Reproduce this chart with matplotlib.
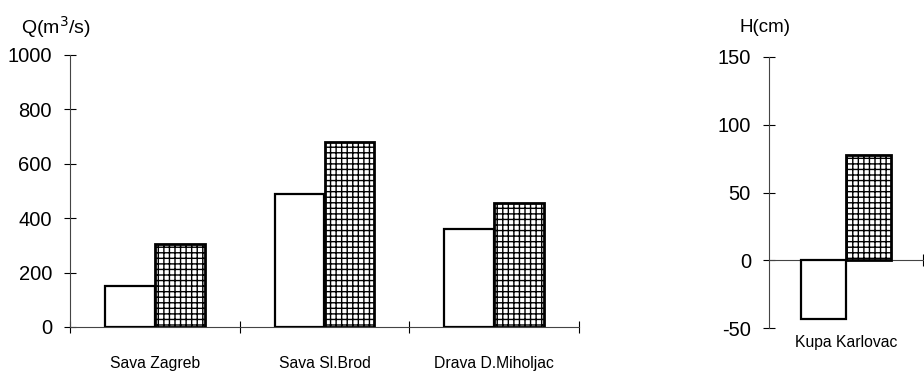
import matplotlib
matplotlib.use("Agg")
import matplotlib.pyplot as plt
import numpy as np

plt.rcParams['font.family'] = ['Liberation Sans', 'DejaVu Sans']
plt.rcParams['hatch.linewidth'] = 1.0

# Data
q_stations = ["Sava Zagreb", "Sava Sl.Brod", "Drava D.Miholjac"]
q_series_a = [150, 490, 360]   # white bars
q_series_b = [305, 680, 455]   # hatched bars
h_stations = ["Kupa Karlovac"]
h_series_a = [-43]
h_series_b = [78]
q_ticks = [0, 200, 400, 600, 800, 1000]
h_ticks = [-50, 0, 50, 100, 150]

W, H = 924, 372
fig = plt.figure(figsize=(W / 100, H / 100), dpi=100)

def fx(px):
    return px / W

def fy(py):
    return 1 - py / H

bw = 0.294

# Left axes
axl = fig.add_axes([fx(70), fy(327), fx(579) - fx(70), fy(55) - fy(327)])
x = np.arange(len(q_stations))
axl.bar(x - bw / 2, q_series_a, width=bw, facecolor='white', edgecolor='black', linewidth=1.6, zorder=3)
axl.bar(x + bw / 2, q_series_b, width=bw, facecolor='white', edgecolor='black', linewidth=2.0, hatch='+++', zorder=3)
axl.set_xlim(-0.5, len(q_stations) - 0.5)
axl.set_ylim(0, 1000)
axl.set_yticks(q_ticks)
axl.set_yticklabels([str(t) for t in q_ticks], fontsize=14.5)
axl.set_xticks(np.arange(len(q_stations) + 1) - 0.5)
axl.set_xticklabels([])
axl.set_xticks(x, minor=True)
axl.set_xticklabels(q_stations, minor=True, fontsize=11.3)
axl.tick_params(axis='x', which='minor', length=0, pad=21)
axl.tick_params(axis='both', which='major', direction='inout', length=8, width=0.8)
axl.tick_params(axis='y', pad=9)
for s in ['top', 'right']:
    axl.spines[s].set_visible(False)
axl.spines['left'].set_linewidth(0.8)
axl.spines['left'].set_color('#444444')
axl.spines['bottom'].set_linewidth(0.8)
axl.spines['bottom'].set_color('#444444')
axl.set_facecolor('none')

# Right axes
axr = fig.add_axes([fx(769), fy(328), fx(923) - fx(769), fy(57) - fy(328)])
xr = np.arange(len(h_stations))
axr.bar(xr - bw / 2, h_series_a, width=bw, facecolor='white', edgecolor='black', linewidth=1.6, zorder=3)
axr.bar(xr + bw / 2, h_series_b, width=bw, facecolor='white', edgecolor='black', linewidth=2.0, hatch='+++', zorder=3)
axr.set_xlim(-0.5, len(h_stations) - 0.5)
axr.set_ylim(-50, 150)
axr.set_yticks(h_ticks)
axr.set_yticklabels([str(t) for t in h_ticks], fontsize=14.5)
axr.spines['bottom'].set_position(('data', 0))
axr.set_xticks([0.5])
axr.set_xticklabels([])
axr.tick_params(axis='both', which='major', direction='inout', length=8, width=0.8)
axr.tick_params(axis='y', pad=9)
for s in ['top', 'right']:
    axr.spines[s].set_visible(False)
for s in ['left', 'bottom']:
    axr.spines[s].set_linewidth(0.8)
    axr.spines[s].set_color('#444444')
axr.set_facecolor('none')
for i, name in enumerate(h_stations):
    axr.annotate(name, xy=(i, 0), xycoords=('data', 'axes fraction'),
                 xytext=(0, -15), textcoords='offset pixels',
                 ha='center', va='center', fontsize=11.3)

fig.text(fx(56), fy(27), r"Q(m$^3$/s)", ha='center', va='center', fontsize=14)
fig.text(fx(765), fy(28), "H(cm)", ha='center', va='center', fontsize=13.5)

fig.savefig("out.png", dpi=100)
